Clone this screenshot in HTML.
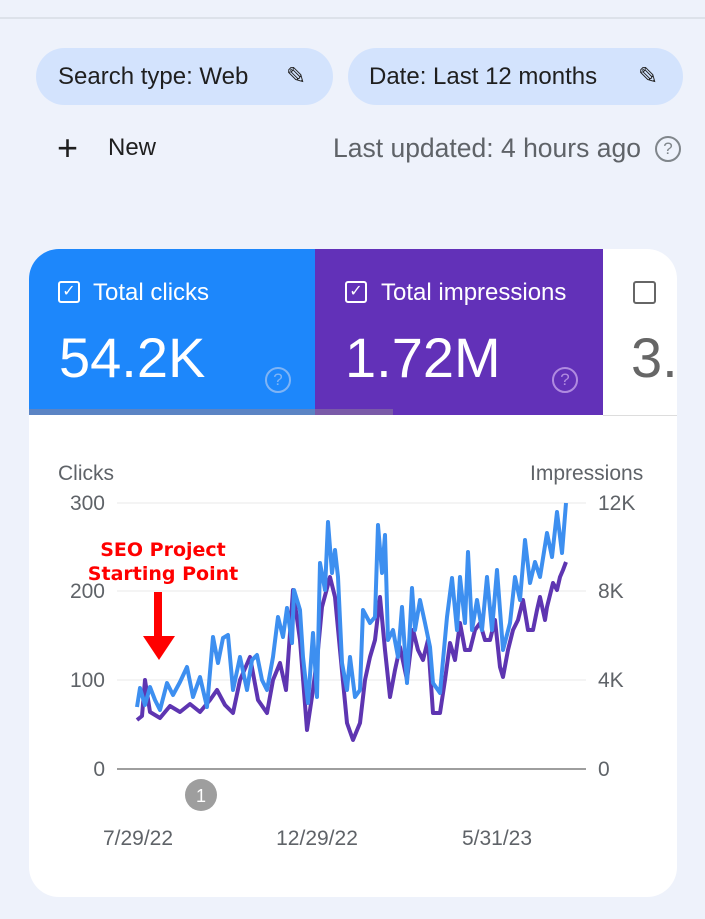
<!DOCTYPE html>
<html><head><meta charset="utf-8"><style>
body{margin:0;width:705px;height:919px;background:#eef2fb;font-family:"Liberation Sans",sans-serif;position:relative;overflow:hidden}
.a{position:absolute}
.pill{position:absolute;top:48px;height:57px;background:#d3e3fd;border-radius:29px;font-size:24px;color:#1f1f1f;line-height:57px}
</style></head><body>
<div class="a" style="left:0;top:17px;width:705px;height:2px;background:#dde2ea"></div>
<div class="pill" style="left:36px;width:297px"><span style="margin-left:22px">Search type: Web</span><span class="a" style="left:250px;top:0;font-size:24px">✎</span></div>
<div class="pill" style="left:348px;width:335px"><span style="margin-left:21px">Date: Last 12 months</span><span class="a" style="left:290px;top:0;font-size:24px">✎</span></div>
<div class="a" style="left:57px;top:128px;font-size:36px;color:#1f1f1f;line-height:40px">+</div>
<div class="a" style="left:108px;top:134px;font-size:24px;color:#1f1f1f">New</div>
<div class="a" style="left:333px;top:133px;font-size:26.5px;color:#5f6368">Last updated: 4 hours ago</div>
<div class="a" style="left:655px;top:136px;width:22px;height:22px;border:2px solid #80868b;border-radius:50%;font-size:17px;color:#80868b;text-align:center;line-height:22px">?</div>
<div class="a" style="left:29px;top:249px;width:648px;height:648px;background:#fff;border-radius:30px;overflow:hidden">
 <div class="a" style="left:0;top:0;width:286px;height:166px;background:#1d87fb"></div>
 <div class="a" style="left:286px;top:0;width:288px;height:166px;background:#6231b8"></div>
 <div class="a" style="left:0;top:160px;width:286px;height:6px;background:#5b84c4"></div>
 <div class="a" style="left:286px;top:160px;width:78px;height:6px;background:#7a5aa8"></div>
 <div class="a" style="left:574px;top:166px;width:74px;height:1px;background:#ddd"></div>
 <div class="a" style="left:29px;top:32px;width:18px;height:18px;border:2px solid #fff;border-radius:3px;color:#fff;font-size:16px;line-height:18px;text-align:center">✓</div>
 <div class="a" style="left:64px;top:30px;font-size:24px;color:#fff">Total clicks</div>
 <div class="a" style="left:30px;top:76px;font-size:56px;color:#fff">54.2K</div>
 <div class="a" style="left:236px;top:118px;width:22px;height:22px;border:2px solid #7fb4f5;border-radius:50%;color:#7fb4f5;font-size:17px;text-align:center;line-height:22px">?</div>
 <div class="a" style="left:316px;top:32px;width:18px;height:18px;border:2px solid #fff;border-radius:3px;color:#fff;font-size:16px;line-height:18px;text-align:center">✓</div>
 <div class="a" style="left:352px;top:30px;font-size:24px;color:#fff">Total impressions</div>
 <div class="a" style="left:316px;top:76px;font-size:56px;color:#fff">1.72M</div>
 <div class="a" style="left:523px;top:118px;width:22px;height:22px;border:2px solid #b08be0;border-radius:50%;color:#b08be0;font-size:17px;text-align:center;line-height:22px">?</div>
 <div class="a" style="left:604px;top:32px;width:19px;height:19px;border:2px solid #666;border-radius:3px"></div>
 <div class="a" style="left:602px;top:76px;font-size:56px;color:#666">3.</div>
</div>
<svg class="a" style="left:0;top:0" width="705" height="919">
<g fill="#5f6368" font-family="Liberation Sans,sans-serif" font-size="21">
<text x="58" y="480">Clicks</text><text x="530" y="480">Impressions</text>
<text x="105" y="510" text-anchor="end">300</text><text x="105" y="598" text-anchor="end">200</text><text x="105" y="687" text-anchor="end">100</text><text x="105" y="776" text-anchor="end">0</text>
<text x="598" y="510">12K</text><text x="598" y="598">8K</text><text x="598" y="687">4K</text><text x="598" y="776">0</text>
<text x="138" y="845" text-anchor="middle">7/29/22</text><text x="317" y="845" text-anchor="middle">12/29/22</text><text x="497" y="845" text-anchor="middle">5/31/23</text>
</g>
<g stroke="#e8e8e8" stroke-width="1"><line x1="117" y1="503" x2="586" y2="503"/><line x1="117" y1="591" x2="586" y2="591"/><line x1="117" y1="680" x2="586" y2="680"/></g>
<line x1="117" y1="769" x2="586" y2="769" stroke="#9e9e9e" stroke-width="2"/>
<circle cx="201" cy="795" r="16" fill="#9e9e9e"/><text x="201" y="802" fill="#fff" font-size="18" text-anchor="middle" font-family="Liberation Sans,sans-serif">1</text>
<polyline fill="none" stroke="#5e35b1" stroke-width="4" stroke-linejoin="round" points="137,720 142,716 145,680 150,712 160,718 170,706 180,712 190,704 200,712 210,700 217,690 225,705 233,713 240,680 250,657 258,700 267,713 273,680 280,663 286,690 293,590 300,640 307,730 313,690 318,650 322,607 330,577 335,597 340,650 347,723 353,740 360,723 365,680 370,657 375,640 380,597 385,650 390,697 395,670 400,647 407,680 413,630 418,650 423,660 428,640 433,713 440,713 445,680 450,643 455,660 460,623 465,650 470,650 475,630 480,623 485,640 490,640 495,620 500,667 503,677 508,650 513,630 518,620 523,600 528,630 533,630 537,610 540,597 545,620 547,607 553,583 557,590 560,577 563,570 566,562"/>
<polyline fill="none" stroke="#3d8ff0" stroke-width="4" stroke-linejoin="round" points="137,707 140,688 145,705 150,687 155,700 160,710 167,683 173,695 180,682 187,667 193,697 200,677 207,707 213,637 218,663 223,638 228,635 233,690 240,657 247,690 252,660 257,655 262,680 267,690 273,657 278,617 283,637 287,608 292,643 294,590 300,610 303,657 308,703 313,633 317,697 320,563 325,590 328,522 332,573 335,550 338,577 342,663 347,690 350,657 355,697 360,690 363,610 370,623 375,617 378,525 382,573 385,535 388,640 393,630 398,657 402,607 407,683 412,588 415,630 420,600 425,623 430,647 433,683 440,693 447,617 452,578 457,630 460,577 465,623 468,552 472,630 477,600 482,630 487,577 492,630 497,570 503,650 510,623 515,577 520,600 525,540 530,583 535,562 540,577 547,533 552,557 557,512 562,553 566,503"/>
<text x="163" y="556" fill="#f00" font-size="19" font-weight="bold" text-anchor="middle" font-family="DejaVu Sans,sans-serif">SEO Project</text>
<text x="163" y="580" fill="#f00" font-size="19" font-weight="bold" text-anchor="middle" font-family="DejaVu Sans,sans-serif">Starting Point</text>
<rect x="154" y="592" width="8" height="46" fill="#f00"/><polygon points="143,636 175,636 159,660" fill="#f00"/>
</svg>
</body></html>
